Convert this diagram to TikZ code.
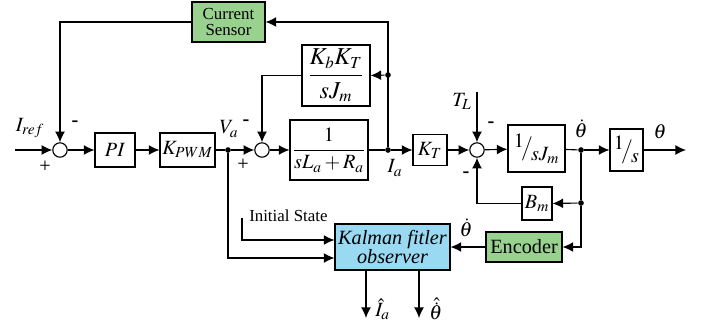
\documentclass[tikz,border=0pt]{standalone}
\usepackage{amsmath}
\usepackage{mathptmx}
\usepackage{fontspec}
\setmainfont{Liberation Serif}
\usepackage{tikz}
\usetikzlibrary{shapes,arrows.meta,positioning}

\definecolor{sensorgreen}{RGB}{153,209,143}
\definecolor{kalmanblue}{RGB}{154,217,242}

\tikzset{
  block/.style={draw, rectangle, inner sep=0pt, line width=0.8pt},
  sum/.style={circle, draw, minimum size=0.36cm, inner sep=0pt, line width=0.8pt},
  dot/.style={circle, fill, minimum size=4pt, inner sep=0pt},
  sign/.style={font=\bfseries\Large, inner sep=0pt}
}

\begin{document}
\begin{tikzpicture}[x=0.025cm, y=-0.025cm, ->, >={Latex[length=7.5pt,width=7pt]},
line width = 0.8pt]
\useasboundingbox (0,0) rectangle (704,329);

% main path
\coordinate (in) at (15,150);
\node [sum] (sumA) at (60,150) {};
\node [block, minimum width=1cm, minimum height=0.85cm] (PI) at (115,150) {\Large $PI$};
\node [block, minimum width=1.375cm, minimum height=0.85cm] (Kpwm) at (187.5,150) {\Large $K_{PWM}$};
\node [dot] (Va) at (228,150) {};
\node [sum] (sumB) at (262,150) {};
\node [block, minimum width=1.95cm, minimum height=1.5cm] (Gcur) at (329,150) {\Large $\dfrac{1}{sL_a+R_a}$};
\node [dot] (Ia) at (388,150) {};
\node [block, minimum width=0.85cm, minimum height=0.775cm] (KT) at (430,150) {\Large $K_T$};
\node [sum] (sumC) at (477,150) {};
\node [block, minimum width=1.425cm, minimum height=1.175cm] (Jm) at (536.5,148.5)
  {\Large $\raisebox{5pt}{$1$}\!\big/\!\raisebox{-4pt}{$sJ_m$}$};
\node [dot] (wdot) at (581,150) {};
\node [block, minimum width=0.825cm, minimum height=1.05cm] (integ) at (626.5,150)
  {\Large $\raisebox{5pt}{$1$}\!\big/\!\raisebox{-4pt}{$s$}$};
\coordinate (out) at (686,150);

% feedback blocks
\node [block, fill=sensorgreen, minimum width=1.825cm, minimum height=1cm, align=center,
  font=\large] (Sensor) at (228.5,22) {Current\\[-3pt]Sensor};
\node [block, minimum width=1.7cm, minimum height=1.525cm] (KbKT) at (336,75.5) {\LARGE $\dfrac{K_bK_T}{sJ_m}$};
\node [dot] (kbdot) at (388,75) {};
\node [block, minimum width=0.75cm, minimum height=0.825cm] (Bm) at (537,203.5) {\Large $B_m$};
\node [dot] (bmdot) at (581,203) {};
\node [block, fill=sensorgreen, minimum width=1.9cm, minimum height=0.75cm, font=\Large] (Encoder) at (524,247) {Encoder};
\node [block, fill=kalmanblue, minimum width=2.875cm, minimum height=1.15cm, align=center,
  font=\Large\itshape] (Kalman) at (392.5,247) {Kalman fitler\\[-5pt]observer};
\coordinate (TL) at (477,92);
\coordinate (init) at (242,218);
\coordinate (oI) at (366,318);
\coordinate (oW) at (419,318);

% labels
\node at (30,128) {\Large $I_{ref}$};
\node [sign] at (75,124) {-};
\node at (45,167) {\Large +};
\node at (229,129) {\Large $V_a$};
\node [sign] at (246,123) {-};
\node at (243,165) {\Large +};
\node at (395,168) {\Large $I_a$};
\node at (462,101) {\Large $T_L$};
\node [sign] at (491,125) {-};
\node [sign] at (466,175) {-};
\node at (581,129) {\Large $\dot\theta$};
\node at (660,132) {\Large $\theta$};
\node at (466,228) {\Large $\dot\theta$};
\node [anchor=south west, font=\large] at (244,227) {Initial State};
\node [anchor=west] at (370,309) {\Large $\hat I_a$};
\node [anchor=west] at (424,309) {\Large $\hat{\dot\theta}$};

% connections
\draw (in) -- (sumA);
\draw (sumA) -- (PI);
\draw (PI) -- (Kpwm);
\draw [-] (Kpwm) -- (Va);
\draw (Va) -- (sumB);
\draw (sumB) -- (Gcur);
\draw [-] (Gcur) -- (Ia);
\draw (Ia) -- (KT);
\draw (KT) -- (sumC);
\draw (sumC) -- (Jm);
\draw [-] (Jm) -- (wdot);
\draw (wdot) -- (integ);
\draw (integ) -- (out);

\draw (Ia) |- (Sensor.east);
\draw (Sensor.west) -| (sumA.north);
\draw (kbdot) -- (KbKT.east);
\draw (KbKT.west) -| (sumB.north);
\draw (TL) -- (sumC.north);

\draw [-] (wdot) -- (bmdot);
\draw (bmdot) -- (Bm.east);
\draw (bmdot) |- (Encoder.east);
\draw (Bm.west) -| (sumC.south);
\draw (Encoder) -- (Kalman);
\draw (init) |- ([yshift=0.175cm]Kalman.west);
\draw (Va) |- ([yshift=-0.275cm]Kalman.west);
\draw (oI |- Kalman.south) -- (oI);
\draw (oW |- Kalman.south) -- (oW);

\end{tikzpicture}
\end{document}
